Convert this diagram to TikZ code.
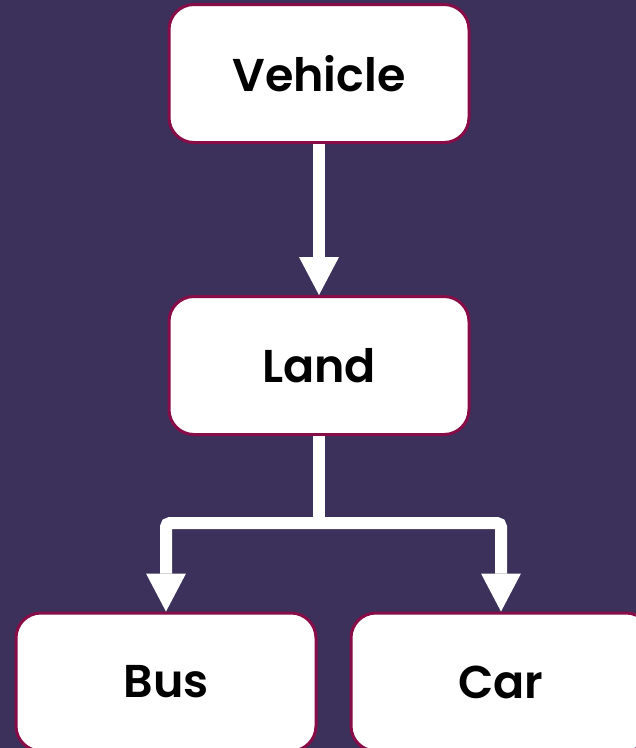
\documentclass[tikz,border=0pt]{standalone}
\usepackage{fontspec}
\setmainfont{Poppins}[BoldFont={Poppins SemiBold}]
\usetikzlibrary{positioning,arrows.meta}
\definecolor{bgpurple}{RGB}{60,49,90}
\definecolor{boxrim}{RGB}{135,12,72}

\tikzset{
  classbox/.style = {shape=rectangle, rounded corners=25pt,
                     draw=boxrim, line width=3pt, fill=white,
                     minimum width=300pt, minimum height=138pt,
                     font=\fontsize{46}{54}\selectfont\bfseries},
  wire/.style     = {draw=white, line width=12pt, rounded corners=4pt},
  flow/.style     = {wire, -{Triangle[width=40pt,length=38pt,line width=0pt]}}
}

\begin{document}
\begin{tikzpicture}[x=1pt,y=-1pt]
\fill[bgpurple] (0,0) rectangle (636,748);
\useasboundingbox (0,0) rectangle (636,748);

\node[classbox] (vehicle) at (319,73.5) {Vehicle};
\node[classbox, below=151pt of vehicle] (land) {Land};
\node[classbox] (bus) at (166,682) {Bus};
\node[classbox, right=32pt of bus] (car) {Car};
\coordinate (split) at (319,523);

\draw[flow] (vehicle) -- (land);
\draw[wire] (land.south) -- (split);
\draw[flow] (split) -| (bus.north);
\draw[flow] (split) -| (car.north);
\end{tikzpicture}
\end{document}
